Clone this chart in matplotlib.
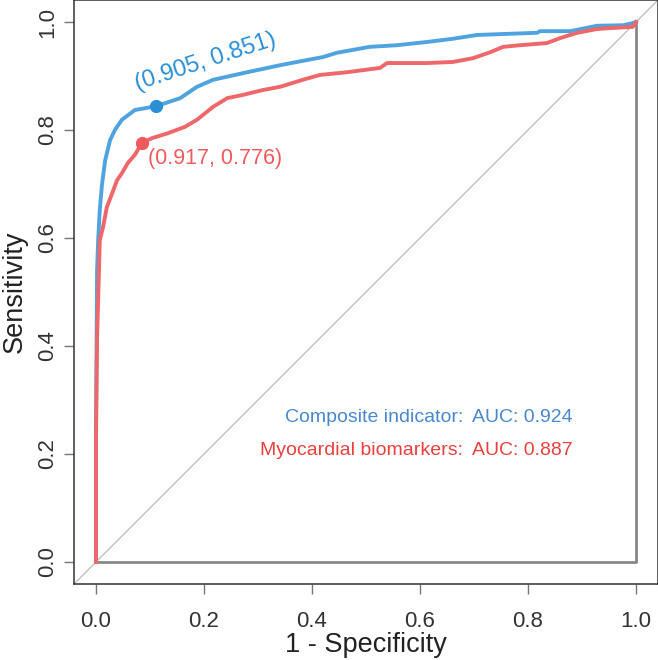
import matplotlib
matplotlib.use('Agg')
import matplotlib.pyplot as plt

plt.rcParams['font.family'] = ['Liberation Sans', 'DejaVu Sans']

# ROC curves, x = 1 - specificity, y = sensitivity
composite_fpr = [0, 0, 0.002, 0.004, 0.007, 0.011, 0.017, 0.026, 0.035, 0.048, 0.072, 0.111,
                 0.156, 0.187, 0.217, 0.280, 0.341, 0.372, 0.420, 0.446, 0.507, 0.557, 0.613,
                 0.661, 0.706, 0.817, 0.822, 0.878, 0.928, 0.976, 0.994, 1.0]
composite_tpr = [0, 0.244, 0.541, 0.596, 0.652, 0.698, 0.744, 0.781, 0.800, 0.819, 0.837, 0.844,
                 0.859, 0.880, 0.893, 0.907, 0.920, 0.926, 0.935, 0.943, 0.954, 0.957, 0.963,
                 0.969, 0.976, 0.980, 0.983, 0.983, 0.993, 0.994, 0.998, 1.0]

bio_fpr = [0, 0, 0.002, 0.004, 0.007, 0.013, 0.020, 0.030, 0.039, 0.048, 0.059, 0.072, 0.085,
           0.104, 0.133, 0.165, 0.187, 0.217, 0.243, 0.272, 0.309, 0.341, 0.383, 0.415, 0.465,
           0.526, 0.539, 0.613, 0.661, 0.698, 0.730, 0.754, 0.785, 0.835, 0.859, 0.891, 0.928,
           0.957, 0.994, 1.0]
bio_tpr = [0, 0.226, 0.417, 0.485, 0.596, 0.620, 0.657, 0.683, 0.707, 0.720, 0.739, 0.754, 0.776,
           0.785, 0.794, 0.806, 0.819, 0.843, 0.859, 0.865, 0.874, 0.880, 0.893, 0.902, 0.907,
           0.915, 0.924, 0.924, 0.926, 0.933, 0.944, 0.954, 0.957, 0.961, 0.970, 0.980, 0.987,
           0.989, 0.991, 1.0]

# best thresholds (point position, label)
composite_best = (0.111, 0.845)
composite_label = '(0.905, 0.851)'
bio_best = (0.085, 0.776)
bio_label = '(0.917, 0.776)'

names = ['Composite indicator:', 'Myocardial biomarkers:']
aucs = ['AUC: 0.924', 'AUC: 0.887']

ticks = [0.0, 0.2, 0.4, 0.6, 0.8, 1.0]

blue_line = '#4FA3DF'
blue_dark = '#2A8FD4'
red_line = '#EE686B'
red_dark = '#EE5A5D'
legend_cols = ['#4A88CC', '#E8403F']

fig = plt.figure(figsize=(6.58, 6.60), dpi=100)
ax = fig.add_axes([74.4 / 658, 76.4 / 660, 583.2 / 658, 583.2 / 660])
ax.set_xlim(-0.04, 1.04)
ax.set_ylim(-0.04, 1.04)

# chance line and baseline box
ax.plot([-0.1, 1.1], [-0.1, 1.1], color='#bbbbbb', lw=0.9, zorder=1)
ax.plot([0, 1, 1], [0, 0, 1], color='#888888', lw=2, zorder=2)

ax.plot(composite_fpr, composite_tpr, color=blue_line, lw=2.8, zorder=3)
ax.plot(bio_fpr, bio_tpr, color=red_line, lw=2.8, zorder=4)

ax.plot(*composite_best, 'o', color=blue_dark, ms=8.5, zorder=5)
ax.plot(*bio_best, 'o', color=red_dark, ms=8.5, zorder=5)

ax.text(0.076, 0.874, composite_label, color=blue_dark, fontsize=17, rotation=18,
        ha='left', va='baseline', rotation_mode='anchor')
ax.text(0.096, 0.748, bio_label, color=red_dark, fontsize=15.5, ha='left', va='center')

for i, (n, a) in enumerate(zip(names, aucs)):
    yy = 0.267 - i * 0.06
    ax.text(0.680, yy, n, color=legend_cols[i], fontsize=14, ha='right', va='center')
    ax.text(0.697, yy, a, color=legend_cols[i], fontsize=14, ha='left', va='center')

ax.set_xticks(ticks)
ax.set_yticks(ticks)
ax.set_xticklabels(['%.1f' % t for t in ticks])
ax.set_yticklabels(['%.1f' % t for t in ticks], rotation=90, va='center')
ax.tick_params(direction='out', length=7, width=1, color='#777777',
               labelcolor='#333333', labelsize=16)
ax.tick_params(axis='x', pad=12.5)
ax.tick_params(axis='y', pad=4.5)

for s in ax.spines.values():
    s.set_color('#333333')
    s.set_linewidth(1.1)

ax.set_xlabel('1 - Specificity', fontsize=19.5, color='#222222', labelpad=0)
ax.set_ylabel('Sensitivity', fontsize=19.5, color='#222222', labelpad=7)

plt.savefig('out.png', dpi=100)
